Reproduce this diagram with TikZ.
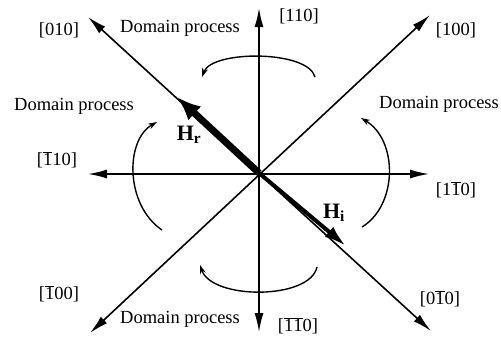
\documentclass[tikz,border=0pt]{standalone}
\usepackage{fontspec}
\setmainfont{Liberation Serif}
\usetikzlibrary{arrows.meta}
\newcommand{\bone}{\ensuremath{\overline{\mbox{1}}}}
\tikzset{
  axis/.style={line width=1.6pt,{Latex[length=19pt,width=9pt]}-{Latex[length=19pt,width=9pt]}},
  proc/.style={line width=1.4pt,-{Stealth[length=9pt,width=6pt]}},
  lbl/.style={inner sep=0pt,font=\fontsize{18.5}{20}\selectfont},
  hlbl/.style={inner sep=0pt,font=\fontsize{22}{24}\selectfont\bfseries}
}
\begin{document}
\begin{tikzpicture}[x=1pt,y=-1pt]
\useasboundingbox (0,0) rectangle (501,343);
\coordinate (o) at (259,173);
\coordinate (n) at (259,8);
\coordinate (s) at (259,332);
\coordinate (w) at (88,174);
\coordinate (e) at (429,174);
\coordinate (nw) at (88,17);
\coordinate (se) at (431,331);
\coordinate (ne) at (430,15);
\coordinate (sw) at (90,333);
\coordinate (hr) at (177,97);
\coordinate (hi) at (346,246);
\draw[axis] (s) -- (n);
\draw[axis] (w) -- (e);
\draw[axis] (sw) -- (ne);
\draw[axis] (se) -- (nw);
\draw[line width=7pt,-{Latex[length=24pt,width=19pt]}] (o) -- (hr);
\draw[line width=4pt,-{Latex[length=22pt,width=13pt]}] (o) -- (hi);
% domain process arcs
\coordinate (t1) at (315,77); \coordinate (t2) at (202,77);
\coordinate (l1) at (162,230); \coordinate (l2) at (157,122);
\coordinate (r1) at (362,227); \coordinate (r2) at (361,118);
\coordinate (b1) at (317,267); \coordinate (b2) at (200,265);
\draw[proc] (t1) .. controls (308,50) and (212,50) .. (t2);
\draw[proc] (l1) .. controls (125,205) and (125,140) .. (l2);
\draw[proc] (r1) .. controls (398,205) and (398,140) .. (r2);
\draw[proc] (b1) .. controls (310,300) and (212,300) .. (b2);
% labels
\node[lbl] (L010) at (59,30) {[010]};
\node[lbl] (Dtop) at (180,28) {Domain process};
\node[lbl] (L110) at (299,16) {[110]};
\node[lbl] (L100) at (456,30) {[100]};
\node[lbl] (Dleft) at (74,106) {Domain process};
\node[lbl] (Dright) at (439,104) {Domain process};
\node[lbl] (Lm110) at (57,160) {[\bone10]};
\node[lbl] (L1m10) at (456,190) {[1\bone0]};
\node[lbl] (Lm100) at (59,294) {[\bone00]};
\node[lbl] (Dbot) at (180,319) {Domain process};
\node[lbl] (Lm1m10) at (298,326) {[\bone\bone0]};
\node[lbl] (L0m10) at (440,299) {[0\bone0]};
\node[hlbl] (Hr) at (189,135) {H\textsubscript{r}};
\node[hlbl] (Hi) at (334,213) {H\textsubscript{i}};
\end{tikzpicture}
\end{document}
